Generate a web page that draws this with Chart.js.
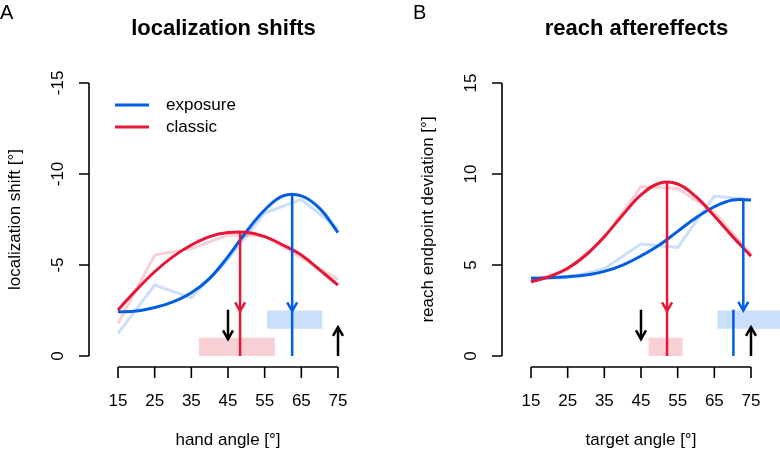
<!DOCTYPE html>
<html>
<head>
<meta charset="utf-8">
<script src="https://cdn.jsdelivr.net/npm/chart.js@4/dist/chart.umd.min.js"></script>
<style>
  html, body { margin: 0; padding: 0; background: #fff; }
  #wrap { position: relative; width: 780px; height: 454px; overflow: hidden; }
  canvas { position: absolute; top: 0; }
</style>
</head>
<body>
<div id="wrap">
  <canvas id="locChart" width="390" height="454" style="left:0"></canvas>
  <canvas id="reachChart" width="390" height="454" style="left:390px"></canvas>
</div>
<script>
// ---- values ----
const xTicks = [15, 25, 35, 45, 55, 65, 75];
const locYTicks = [0, -5, -10, -15];
const reachYTicks = [0, 5, 10, 15];

// raw means per angle (faint lines)
const angles = [15, 25, 35, 45, 55, 65, 75];
const locExposureRaw = [-1.25, -3.9, -3.2, -5.3, -7.85, -8.6, -7.0];
const locClassicRaw = [-1.8, -5.55, -5.9, -6.65, -6.6, -5.4, -4.2];
const reachExposureRaw = [4.3, 4.3, 4.8, 6.15, 5.97, 8.79, 8.6];
const reachClassicRaw = [4.1, 4.75, 6.5, 9.3, 9.2, 7.9, 5.6];

// fitted curves
const fitAngles = [15, 20, 25, 30, 35, 40, 45, 50, 55, 60, 65, 70, 75];
const locExposureFit = [-2.43, -2.47, -2.67, -2.98, -3.48, -4.27, -5.46, -6.83, -8.02, -8.8, -8.8, -8.11, -6.78];
const locClassicFit = [-2.53, -3.63, -4.63, -5.46, -6.1, -6.56, -6.78, -6.8, -6.56, -6.1, -5.55, -4.73, -3.9];
const reachExposureFit = [4.27, 4.3, 4.36, 4.45, 4.65, 5.0, 5.5, 6.1, 6.85, 7.6, 8.2, 8.57, 8.57];
const reachClassicFit = [4.08, 4.36, 4.82, 5.55, 6.56, 7.75, 8.85, 9.49, 9.45, 8.75, 7.69, 6.56, 5.49];

// peak angles and heights (classic, exposure)
const locPeakAngle = [48.3, 62.5];
const locPeakValue = [-6.83, -8.88];
const locArrowTip = [-2.47, -2.47];
const reachPeakAngle = [52.1, 72.9];
const reachPeakValue = [9.58, 8.63];
const reachArrowTip = [2.47, 2.5];
const reachExposureMark = [70.2, 2.55]; // angle, top of line

// confidence bands: angle range and y range
const locClassicCI = [37.0, 57.8];
const locExposureCI = [55.6, 70.8];
const reachClassicCI = [47.0, 56.4];
const reachExposureCI = [65.8, 85];
const locClassicBand = [0, -1];
const locExposureBand = [-1.5, -2.5];
const reachClassicBand = [0, 1];
const reachExposureBand = [1.5, 2.5];

// black cue arrows: angle, from, to
const cueAngles = [45, 75];
const locCueFrom = [-2.55, 0];
const locCueTo = [-0.93, -1.58];
const reachCueFrom = [2.55, 0];
const reachCueTo = [0.93, 1.58];

const BLUE = '#005de4';
const RED = '#e51636';
const BLUE_T = 'rgba(0,93,228,0.2)';
const RED_T = 'rgba(229,22,54,0.2)';
const FONT = '"Liberation Sans", Arial, Helvetica, sans-serif';

function series(xs, ys) { return xs.map((x, i) => ({ x: x, y: ys[i] })); }
function seg(x0, y0, x1, y1) { return [{ x: x0, y: y0 }, { x: x1, y: y1 }]; }

function lineSet(data, color, width, order, extra) {
  return Object.assign({
    data: data, borderColor: color, borderWidth: width, pointRadius: 0,
    fill: false, tension: 0, order: order, clip: false
  }, extra || {});
}

function band(range, yr, color) {
  return {
    data: seg(range[0], yr[1], range[1], yr[1]),
    fill: { value: yr[0] }, backgroundColor: color,
    borderColor: 'transparent', borderWidth: 0, pointRadius: 0, order: 20, clip: false
  };
}

// R-style detached axes, titles and legend
const rStyle = {
  id: 'rStyle',
  afterDraw(chart, args, o) {
    const ctx = chart.ctx;
    const xs = chart.scales.x, ys = chart.scales.y;
    const x0 = xs.getPixelForValue(xTicks[0]);
    const x1 = xs.getPixelForValue(xTicks[xTicks.length - 1]);
    const axX = x0 - 29;
    const axY = chart.chartArea.bottom;
    const yTop = ys.getPixelForValue(o.yTicks[o.yTicks.length - 1]);
    const yBot = ys.getPixelForValue(o.yTicks[0]);
    ctx.save();
    ctx.strokeStyle = '#000';
    ctx.fillStyle = '#000';
    ctx.lineWidth = 1.6;
    ctx.beginPath();
    ctx.moveTo(x0, axY); ctx.lineTo(x1, axY);
    xTicks.forEach(v => {
      const p = xs.getPixelForValue(v);
      ctx.moveTo(p, axY); ctx.lineTo(p, axY + 11);
    });
    ctx.moveTo(axX, yTop); ctx.lineTo(axX, yBot);
    o.yTicks.forEach(v => {
      const p = ys.getPixelForValue(v);
      ctx.moveTo(axX, p); ctx.lineTo(axX - 10, p);
    });
    ctx.stroke();

    ctx.font = '17px ' + FONT;
    ctx.textAlign = 'center';
    ctx.textBaseline = 'middle';
    xTicks.forEach(v => ctx.fillText(String(v), xs.getPixelForValue(v), axY + 34));
    ctx.fillText(o.xTitle, xs.getPixelForValue(45), axY + 73);

    o.yTicks.forEach(v => {
      ctx.save();
      ctx.translate(axX - 31, ys.getPixelForValue(v));
      ctx.rotate(-Math.PI / 2);
      ctx.fillText(String(v), 0, 0);
      ctx.restore();
    });
    ctx.save();
    ctx.translate(axX - 74, (yTop + yBot) / 2);
    ctx.rotate(-Math.PI / 2);
    ctx.fillText(o.yTitle, 0, 0);
    ctx.restore();

    ctx.font = 'bold 22px ' + FONT;
    ctx.fillText(o.title, xs.getPixelForValue(45) - 4.5, 29);

    ctx.font = '20px ' + FONT;
    ctx.textAlign = 'left';
    ctx.textBaseline = 'alphabetic';
    ctx.fillText(o.letter, o.letterX, 19);

    if (o.legend) {
      ctx.font = '17px ' + FONT;
      ctx.textBaseline = 'middle';
      ctx.lineWidth = 3;
      o.legend.forEach((item, i) => {
        const y = 105 + i * 22;
        ctx.strokeStyle = item.color;
        ctx.beginPath(); ctx.moveTo(115, y); ctx.lineTo(149, y); ctx.stroke();
        ctx.fillText(item.label, 166, y);
      });
    }
    ctx.restore();
  }
};

// open V arrow heads at the last point of flagged datasets
const arrowHeads = {
  id: 'arrowHeads',
  afterDatasetsDraw(chart) {
    const ctx = chart.ctx;
    chart.data.datasets.forEach((ds, i) => {
      if (!ds.arrowHead) return;
      const pts = chart.getDatasetMeta(i).data;
      const a = pts[pts.length - 2], b = pts[pts.length - 1];
      const ang = Math.atan2(b.y - a.y, b.x - a.x);
      const len = 10, spread = Math.PI / 6;
      ctx.save();
      ctx.strokeStyle = ds.borderColor;
      ctx.lineWidth = ds.borderWidth;
      ctx.lineCap = 'butt';
      ctx.beginPath();
      ctx.moveTo(b.x - len * Math.cos(ang - spread), b.y - len * Math.sin(ang - spread));
      ctx.lineTo(b.x, b.y);
      ctx.lineTo(b.x - len * Math.cos(ang + spread), b.y - len * Math.sin(ang + spread));
      ctx.stroke();
      ctx.restore();
    });
  }
};

function makeChart(id, datasets, xMax, yMin, yMax, reverse, padLeft, padRight, opts) {
  return new Chart(document.getElementById(id), {
    type: 'line',
    data: { datasets: datasets },
    options: {
      responsive: false,
      animation: false,
      devicePixelRatio: 1,
      events: [],
      layout: { padding: { left: padLeft, right: padRight, top: 72, bottom: 87 } },
      scales: {
        x: { type: 'linear', min: 12, max: xMax, display: false },
        y: { type: 'linear', min: yMin, max: yMax, reverse: reverse, display: false }
      },
      plugins: {
        legend: { display: false },
        tooltip: { enabled: false },
        rStyle: opts
      }
    },
    plugins: [rStyle, arrowHeads]
  });
}

// panel A: localization shifts
makeChart('locChart', [
  band(locClassicCI, locClassicBand, RED_T),
  band(locExposureCI, locExposureBand, BLUE_T),
  lineSet(series(angles, locExposureRaw), BLUE_T, 3, 12),
  lineSet(series(angles, locClassicRaw), RED_T, 3, 11),
  lineSet(series(fitAngles, locExposureFit), BLUE, 3, 6, { tension: 0.4 }),
  lineSet(series(fitAngles, locClassicFit), RED, 3, 5, { tension: 0.4 }),
  lineSet(seg(locPeakAngle[0], locPeakValue[0], locPeakAngle[0], locArrowTip[0]), RED, 2.5, 2, { arrowHead: true }),
  lineSet(seg(locPeakAngle[0], locArrowTip[0], locPeakAngle[0], 0), RED, 2.5, 2),
  lineSet(seg(locPeakAngle[1], locPeakValue[1], locPeakAngle[1], locArrowTip[1]), BLUE, 2.5, 1, { arrowHead: true }),
  lineSet(seg(locPeakAngle[1], locArrowTip[1], locPeakAngle[1], 0), BLUE, 2.5, 1),
  lineSet(seg(cueAngles[0], locCueFrom[0], cueAngles[0], locCueTo[0]), '#000', 2.5, 0, { arrowHead: true }),
  lineSet(seg(cueAngles[1], locCueFrom[1], cueAngles[1], locCueTo[1]), '#000', 2.5, 0, { arrowHead: true })
], 78, -15.6, 0.6, true, 107, 41, {
  yTicks: locYTicks,
  xTitle: 'hand angle [°]',
  yTitle: 'localization shift [°]',
  title: 'localization shifts',
  letter: 'A', letterX: 0,
  legend: [{ label: 'exposure', color: BLUE }, { label: 'classic', color: RED }]
});

// panel B: reach aftereffects (plot area runs to the right edge so the band can reach it)
makeChart('reachChart', [
  band(reachClassicCI, reachClassicBand, RED_T),
  band(reachExposureCI, reachExposureBand, BLUE_T),
  lineSet(series(angles, reachExposureRaw), BLUE_T, 3, 12),
  lineSet(series(angles, reachClassicRaw), RED_T, 3, 11),
  lineSet(series(fitAngles, reachExposureFit), BLUE, 3, 6, { tension: 0.4 }),
  lineSet(series(fitAngles, reachClassicFit), RED, 3, 5, { tension: 0.4 }),
  lineSet(seg(reachPeakAngle[0], reachPeakValue[0], reachPeakAngle[0], reachArrowTip[0]), RED, 2.5, 2, { arrowHead: true }),
  lineSet(seg(reachPeakAngle[0], reachArrowTip[0], reachPeakAngle[0], 0), RED, 2.5, 2),
  lineSet(seg(reachPeakAngle[1], reachPeakValue[1], reachPeakAngle[1], reachArrowTip[1]), BLUE, 2.5, 1, { arrowHead: true }),
  lineSet(seg(reachExposureMark[0], reachExposureMark[1], reachExposureMark[0], 0), BLUE, 2.5, 1),
  lineSet(seg(cueAngles[0], reachCueFrom[0], cueAngles[0], reachCueTo[0]), '#000', 2.5, 0, { arrowHead: true }),
  lineSet(seg(cueAngles[1], reachCueFrom[1], cueAngles[1], reachCueTo[1]), '#000', 2.5, 0, { arrowHead: true })
], 82.91, -0.6, 15.6, false, 130, 0, {
  yTicks: reachYTicks,
  xTitle: 'target angle [°]',
  yTitle: 'reach endpoint deviation [°]',
  title: 'reach aftereffects',
  letter: 'B', letterX: 23
});
</script>
</body>
</html>
